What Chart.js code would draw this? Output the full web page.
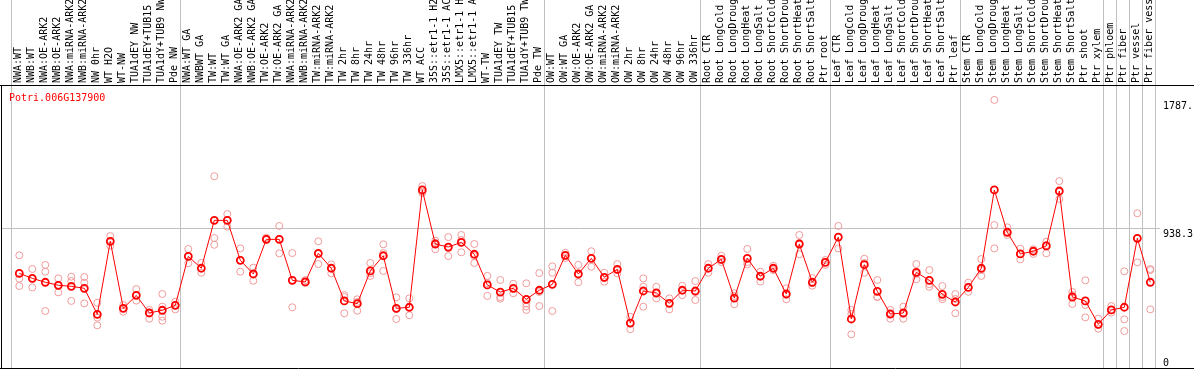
<!DOCTYPE html>
<html>
<head>
<meta charset="utf-8">
<script src="https://cdn.jsdelivr.net/npm/chart.js@4/dist/chart.umd.min.js"></script>
<style>
html,body{margin:0;padding:0;background:#fff;overflow:hidden;}
#wrap{position:relative;width:1194px;height:370px;}
</style>
</head>
<body>
<div id="wrap"><canvas id="c" width="1194" height="370"></canvas></div>
<script>
const categories = [
 "NWA:WT","NWB:WT","NWA:OE-ARK2","NWB:OE-ARK2","NWA:miRNA-ARK2","NWB:miRNA-ARK2","NW 0hr","WT H2O","WT-NW","TUA1dEY NW","TUA1dEY+TUB15","TUA1dY+TUB9 NW","Pde NW",
 "NWA:WT GA","NWBWT GA","TW:WT","TW:WT GA","NWA:OE-ARK2 GA","NWB:OE-ARK2 GA","TW:OE-ARK2","TW:OE-ARK2 GA","NWA:miRNA-ARK2","NWB:miRNA-ARK2","TW:miRNA-ARK2","TW:miRNA-ARK2",
 "TW 2hr","TW 8hr","TW 24hr","TW 48hr","TW 96hr","TW 336hr","WT ACC","35S::etr1-1 H2O","35S::etr1-1 ACC","LMX5::etr1-1 H2O","LMX5::etr1-1 ACC","WT-TW","TUA1dEY TW","TUA1dEY+TUB15","TUA1dY+TUB9 TW","Pde TW",
 "OW:WT","OW:WT GA","OW:OE-ARK2","OW:OE-ARK2 GA","OW:miRNA-ARK2","OW:miRNA-ARK2","OW 2hr","OW 8hr","OW 24hr","OW 48hr","OW 96hr","OW 336hr",
 "Root CTR","Root LongCold","Root LongDrought","Root LongHeat","Root LongSalt","Root ShortCold","Root ShortDrought","Root ShortHeat","Root ShortSalt","Ptr root",
 "Leaf CTR","Leaf LongCold","Leaf LongDrought","Leaf LongHeat","Leaf LongSalt","Leaf ShortCold","Leaf ShortDrought","Leaf ShortHeat","Leaf ShortSalt","Ptr leaf",
 "Stem CTR","Stem LongCold","Stem LongDrought","Stem LongHeat","Stem LongSalt","Stem ShortCold","Stem ShortDrought","Stem ShortHeat","Stem ShortSalt","Ptr shoot","Ptr xylem",
 "Ptr phloem","Ptr fiber","Ptr vessel","Ptr fiber vessel"
];
const groupSizes = [13, 28, 12, 10, 10, 11, 1, 1, 1, 1];
const geneName = "Potri.006G137900";

const meanValues = [
 635,602,576,556,549,536,363,848,403,489,372,390,423,
 748,669,987,987,722,631,861,861,589,578,768,669,452,434,651,752,403,410,1189,830,810,841,762,558,511,536,463,523,
 562,755,631,735,609,662,305,518,505,436,523,518,
 669,728,471,735,616,669,498,830,576,708,
 876,332,693,516,365,372,642,589,496,445,
 542,669,1189,908,764,782,817,1182,478,452,297,
 392,410,868,576
];
const rep1 = [
 755,664,691,602,613,611,440,883,425,531,392,498,447,
 797,704,1280,1029,801,673,872,950,770,591,848,695,491,463,704,828,476,469,1215,852,876,890,830,618,591,566,569,637,
 682,772,691,782,639,697,347,602,546,469,553,584,
 697,752,503,797,646,686,536,890,604,724,
 950,392,732,591,392,414,697,657,551,498,
 573,730,1787,941,799,795,845,1248,511,589,334,
 418,649,1034,657
];
const rep2 = [
 600,598,646,509,584,573,341,819,380,454,334,347,396,
 702,639,870,945,646,586,863,768,410,571,697,635,370,387,618,651,332,357,1177,795,750,775,704,485,467,503,436,418,
 639,750,576,679,580,635,264,546,469,396,491,458,
 639,710,430,695,580,657,463,762,553,691,
 801,230,639,480,334,334,596,546,463,370,
 513,618,956,890,728,764,768,1129,432,425,268,
 374,330,708,396
];
const rep3 = [
 551,542,385,558,452,436,290,850,405,491,372,321,425,
 750,671,825,989,724,631,857,863,591,578,764,671,478,445,637,770,398,405,1169,837,803,857,750,571,478,531,392,511,
 385,737,624,737,604,657,305,414,498,438,525,511,
 671,724,485,710,618,671,491,837,571,710,
 876,365,704,478,372,365,631,564,478,465,
 544,657,801,910,764,784,823,1175,491,343,292,
 392,252,870,664
];
const rep4 = {11: 414, 39: 415};
const yTickValues = [0, 938.3, 1787];
const yTickLabels = ["0", "938.3", "1787."];

const toPts = arr => arr.map((v, i) => ({x: i, y: v}));
const rep4Pts = Object.keys(rep4).map(k => ({x: +k, y: rep4[k]}));

const MONO = "10px 'DejaVu Sans Mono', 'Liberation Mono', monospace";

const framePlugin = {
  id: 'frame',
  beforeDatasetsDraw(chart) {
    const ctx = chart.ctx, xs = chart.scales.x, ys = chart.scales.y, ca = chart.chartArea;
    ctx.save();
    ctx.strokeStyle = '#c0c0c0';
    ctx.lineWidth = 1;
    let start = 0;
    const bounds = [start - 0.615];
    groupSizes.forEach(g => { start += g; bounds.push(start - 0.615); });
    bounds.forEach(b => {
      const px = Math.round(xs.getPixelForValue(b)) + 0.5;
      ctx.beginPath(); ctx.moveTo(px, 0); ctx.lineTo(px, ca.bottom); ctx.stroke();
    });
    const gy = Math.round(ys.getPixelForValue(yTickValues[1])) + 0.5;
    ctx.beginPath(); ctx.moveTo(ca.left, gy); ctx.lineTo(1160, gy); ctx.stroke();
    ctx.strokeStyle = '#000';
    ctx.beginPath(); ctx.moveTo(0, ca.top + 0.5); ctx.lineTo(1194, ca.top + 0.5); ctx.stroke();
    ctx.beginPath(); ctx.moveTo(ca.left + 0.5, ca.top); ctx.lineTo(ca.left + 0.5, ca.bottom); ctx.stroke();
    ctx.beginPath(); ctx.moveTo(0, ca.bottom - 0.5); ctx.lineTo(1194, ca.bottom - 0.5); ctx.stroke();
    ctx.restore();
  },
  afterDatasetsDraw(chart) {
    const ctx = chart.ctx, xs = chart.scales.x, ys = chart.scales.y, ca = chart.chartArea;
    ctx.save();
    ctx.font = MONO;
    ctx.fillStyle = '#000';
    ctx.textBaseline = 'alphabetic';
    ctx.textAlign = 'left';
    categories.forEach((c, i) => {
      const px = xs.getPixelForValue(i);
      ctx.save();
      ctx.translate(px + 1.5, ca.top - 2);
      ctx.rotate(-Math.PI / 2);
      ctx.fillText(c, 0, 0);
      ctx.restore();
    });
    yTickValues.forEach((v, k) => {
      let y = ys.getPixelForValue(v) + 9;
      if (y > ca.bottom - 3) y = ca.bottom - 3;
      ctx.fillText(yTickLabels[k], 1163, y);
    });
    ctx.fillStyle = '#ff0000';
    ctx.fillText(geneName, 9, ca.top + 16);
    ctx.restore();
  }
};

const repStyle = {
  showLine: false,
  pointRadius: 3.5,
  pointBorderWidth: 1,
  pointBorderColor: '#f09a9a',
  pointBackgroundColor: 'rgba(0,0,0,0)',
  borderColor: '#f09a9a',
  order: 2
};

new Chart(document.getElementById('c'), {
  type: 'scatter',
  data: {
    datasets: [
      Object.assign({label: 'rep1', data: toPts(rep1)}, repStyle),
      Object.assign({label: 'rep2', data: toPts(rep2)}, repStyle),
      Object.assign({label: 'rep3', data: toPts(rep3)}, repStyle),
      Object.assign({label: 'rep4', data: rep4Pts}, repStyle),
      {
        label: 'mean', data: toPts(meanValues), showLine: true,
        borderColor: '#ff0000', borderWidth: 1,
        pointRadius: 3.5, pointBorderWidth: 1.8,
        pointBorderColor: '#ff0000', pointBackgroundColor: 'rgba(0,0,0,0)',
        tension: 0, order: 1
      }
    ]
  },
  options: {
    responsive: false,
    animation: false,
    events: [],
    layout: {autoPadding: false, padding: {left: 1, right: 38, top: 85, bottom: 1}},
    plugins: {legend: {display: false}, tooltip: {enabled: false}},
    scales: {
      x: {type: 'linear', display: false, min: -1.408, max: 87.437},
      y: {type: 'linear', display: false, min: 0, max: 1886}
    }
  },
  plugins: [framePlugin]
});
</script>
</body>
</html>
